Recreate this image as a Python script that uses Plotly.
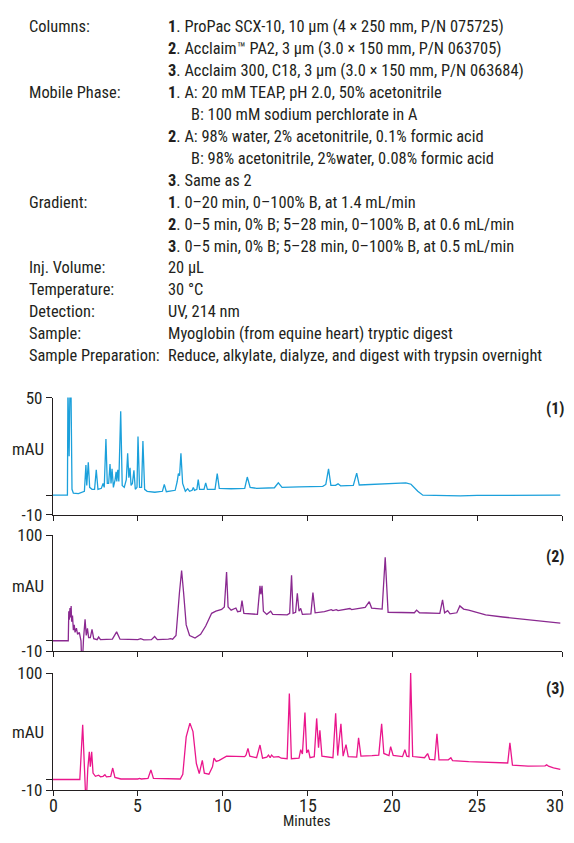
import plotly.graph_objects as go

PAD = 8  # default body margin of the html page
W, H = 574 - 2 * PAD, 843 - 2 * PAD
FONT = "Liberation Sans Narrow, Roboto Condensed, Arial Narrow, Liberation Sans, sans-serif"

# ---------------- text block ----------------
row_labels = ["Columns:", "", "", "Mobile Phase:", "", "", "", "", "Gradient:", "", "",
              "Inj. Volume:", "Temperature:", "Detection:", "Sample:", "Sample Preparation:"]
row_values = [
    "<b>1</b>. ProPac SCX-10, 10 µm (4 × 250 mm, P/N 075725)",
    "<b>2</b>. Acclaim™ PA2, 3 µm (3.0 × 150 mm, P/N 063705)",
    "<b>3</b>. Acclaim 300, C18, 3 µm (3.0 × 150 mm, P/N 063684)",
    "<b>1</b>. A: 20 mM TEAP, pH 2.0, 50% acetonitrile",
    "    B: 100 mM sodium perchlorate in A",
    "<b>2</b>. A: 98% water, 2% acetonitrile, 0.1% formic acid",
    "    B: 98% acetonitrile, 2%water, 0.08% formic acid",
    "<b>3</b>. Same as 2",
    "<b>1</b>. 0–20 min, 0–100% B, at 1.4 mL/min",
    "<b>2</b>. 0–5 min, 0% B; 5–28 min, 0–100% B, at 0.6 mL/min",
    "<b>3</b>. 0–5 min, 0% B; 5–28 min, 0–100% B, at 0.5 mL/min",
    "20 µL",
    "30 °C",
    "UV, 214 nm",
    "Myoglobin (from equine heart) tryptic digest",
    "Reduce, alkylate, dialyze, and digest with trypsin overnight",
]

# ---------------- chromatogram data (minutes, mAU) ----------------
t1 = [0, 0.85, 0.88, 0.95, 1.0, 1.06, 1.12, 1.2, 1.5, 1.85, 1.94, 1.99, 2.08, 2.16, 2.3, 2.45, 2.55, 2.65,
      2.85, 2.95, 3.02, 3.12, 3.2, 3.28, 3.36, 3.42, 3.48, 3.56, 3.66, 3.72, 3.76, 3.82, 3.88, 3.99, 4.08,
      4.2, 4.32, 4.4, 4.47, 4.54, 4.6, 4.68, 4.77, 4.85, 4.95, 5.01, 5.1, 5.22, 5.3, 5.4, 5.55, 6.0, 6.45,
      6.56, 6.68, 7.2, 7.32, 7.39, 7.46, 7.54, 7.64, 7.8, 7.94, 8.05, 8.2, 8.27, 8.34, 8.48, 8.56, 8.64,
      8.9, 9.0, 9.1, 9.55, 9.68, 9.8, 10.5, 11.3, 11.45, 11.62, 12.0, 13.05, 13.28, 13.5, 14.5, 15.9, 16.08,
      16.24, 16.38, 16.65, 16.8, 16.95, 17.7, 17.9, 18.05, 19.0, 20.8, 21.1, 21.5, 21.8, 23.0, 24.0, 25.0,
      27.0, 29.9]
v1 = [0, 0, 55, 20, 55, 55, 3, 1, 0.8, 2, 15.5, 5, 16.8, 4, 3, 3, 13, 3,
      3.5, 6, 4, 28.8, 6, 6, 16, 6, 13.5, 4, 8, 12, 7, 13, 7, 43, 5,
      4, 8, 21.5, 9, 14, 5, 6, 12.7, 3, 4, 30, 4, 4, 27.7, 3, 2, 1.5, 2,
      5.5, 1.8, 2.5, 7, 11, 10, 21.5, 6, 2, 3.3, 2, 2.5, 4, 2.5, 3, 8, 3,
      3, 6.3, 3, 3, 11, 3.5, 3.3, 3.5, 9.3, 4, 3.5, 3.8, 6.3, 4, 4.2, 4.5, 5.5,
      13.5, 5, 5, 5.8, 4.8, 5, 11.3, 5.2, 5.6, 6.3, 5.6, 2, 0, -0.2, -0.4, -0.1,
      0, 0]

t2 = [0, 0.9, 0.93, 0.96, 1.0, 1.03, 1.07, 1.1, 1.15, 1.2, 1.25, 1.3, 1.38, 1.45, 1.55, 1.65, 1.68, 1.75,
      1.8, 1.89, 1.96, 2.03, 2.1, 2.2, 2.3, 2.4, 2.6, 2.69, 2.8, 3.5, 3.75, 3.95, 5.0, 5.17, 5.35, 5.8,
      5.99, 6.15, 6.8, 6.93, 7.05, 7.25, 7.45, 7.58, 7.7, 7.85, 8.05, 8.37, 8.7, 9.0, 9.35, 9.6, 9.94,
      10.1, 10.23, 10.32, 10.5, 10.7, 10.78, 10.88, 11.05, 11.14, 11.25, 12.05, 12.15, 12.2, 12.25, 12.32,
      12.4, 12.6, 12.83, 12.95, 13.8, 13.95, 14.06, 14.15, 14.3, 14.4, 14.5, 14.6, 14.7, 15.2, 15.32,
      15.45, 16.0, 16.3, 16.4, 16.5, 16.7, 16.8, 17.4, 17.5, 17.6, 18.4, 18.64, 18.78, 19.4, 19.58, 19.75,
      20.5, 21.3, 21.43, 21.6, 22.8, 22.96, 23.08, 23.26, 23.4, 23.8, 23.98, 24.2, 24.5, 25.5, 26.5, 27.5,
      28.5, 29.9]
v2 = [0, 0, 28, 20, 31, 22, 33, 18, 24, 10, 15, 8, 12, 6, 8, 0, -15, -15,
      2, 20.4, 5, 11.8, 3, 3, 10.8, 2, 1, 3.5, 1, 1.5, 8.4, 1.5, 1, 2, 0.8, 1,
      4, 1, 1.5, 2, 1.5, 5, 45, 66.5, 45, 15, 5, 2.5, 6, 14, 26, 28, 29.7,
      32, 65, 32, 29, 30, 31, 27.5, 28, 38, 26, 25, 45, 52, 44, 52,
      28, 25, 28, 25, 24.5, 26, 62, 26, 27, 45, 28, 30.6, 25, 25.5, 45.6,
      26.5, 27.5, 28.5, 29.5, 28.5, 29.5, 28.5, 30, 30.5, 29.5, 31.5, 37, 31, 30, 79, 27,
      26.5, 26.5, 29, 26.5, 26, 38.7, 26.5, 28.5, 25.5, 26.5, 33, 30, 29, 24.5, 22.5, 21,
      18.8, 16.7]

t3 = [0, 1.58, 1.75, 1.85, 1.92, 1.98, 2.05, 2.14, 2.2, 2.28, 2.36, 2.5, 2.69, 2.8, 2.95, 3.06, 3.15,
      3.4, 3.52, 3.65, 4.0, 5.0, 5.1, 5.2, 5.6, 5.77, 5.92, 7.5, 7.65, 7.85, 8.07, 8.25, 8.45, 8.62, 8.8,
      8.92, 9.19, 9.4, 9.49, 9.62, 9.8, 10.23, 11.0, 11.3, 11.38, 11.49, 11.6, 12.0, 12.2, 12.35, 12.6,
      12.7, 12.8, 12.88, 13.0, 13.3, 13.45, 13.8, 13.93, 14.05, 14.5, 14.6, 14.7, 14.85, 14.95, 15.05,
      15.15, 15.4, 15.54, 15.65, 15.73, 15.85, 16.5, 16.66, 16.78, 16.97, 17.1, 17.27, 17.4, 17.9, 18.01,
      18.15, 18.8, 19.2, 19.37, 19.5, 19.8, 19.9, 20.05, 20.6, 20.74, 20.85, 20.98, 21.08, 21.2, 21.9,
      22.08, 22.2, 22.5, 22.63, 22.75, 23.3, 23.45, 23.55, 24.5, 26.5, 26.8, 26.93, 27.08, 28.0, 29.0,
      29.1, 29.2, 29.5, 29.9]
v3 = [0, 0, 51.5, 20, -15, -15, 10, 26, 12, 26, 6, 3, 4, 2.5, 3, 4.5, 2.5,
      3, 10.8, 2, 0.5, 0.5, 1, 0.5, 1, 9, 1, 0.5, 5, 40, 53, 45, 15, 5.5, 18,
      6, 5, 12, 20, 17, 18, 22, 21.5, 21.5, 23, 29.3, 22, 20.5, 32.4, 20, 21,
      23, 20.5, 23, 21, 21.5, 20, 19.5, 80.8, 19.5, 20, 28, 24, 63, 25, 28,
      20.5, 21.5, 57.4, 30, 46.3, 22, 20.5, 62.3, 22.5, 52.4, 22, 32.7, 21.6, 21, 39.2,
      22, 22.5, 23, 52.4, 24.5, 22.5, 30.8, 22.6, 21.5, 28, 22, 21.5, 100, 21.6, 20.5,
      24.4, 19, 18.5, 42.9, 18.5, 18.5, 20.4, 17.8, 16.8, 15.5, 15.5, 34.5, 13.4, 12.5, 12.8,
      13.8, 12.5, 11, 9.5]

panel_labels = ["(1)", "(2)", "(3)"]
colors = ["#1ba0db", "#8a2990", "#ea168c"]
y_ranges = [[-10, 50], [-10, 100], [-10, 100]]
y_ticks = [[-10, 0, 50], [-10, 0, 100], [-10, 0, 100]]
x_ticks = [0, 5, 10, 15, 20, 25, 30]

# page-pixel -> paper helpers (figure sits inside the page's 8px body margin)
def px(x):
    return (x - PAD) / W

def py(y):
    return 1 - (y - PAD) / H

x_dom = [px(53), px(562)]
y_doms = [[py(517), py(397)], [py(657), py(538)], [py(799.3), py(679.3)]]
label_y = [408, 560, 695]
mau_y = [450, 590, 740]

fig = go.Figure()
series = [(t1, v1), (t2, v2), (t3, v3)]
for i, (t, v) in enumerate(series):
    sfx = "" if i == 0 else str(i + 1)
    fig.add_trace(go.Scatter(x=t, y=v, mode="lines", line=dict(color=colors[i], width=1.3),
                             xaxis="x" + sfx, yaxis="y" + sfx, showlegend=False, hoverinfo="skip"))

layout = dict(width=W, height=H, margin=dict(l=0, r=0, t=0, b=0),
              paper_bgcolor="white", plot_bgcolor="white", showlegend=False,
              font=dict(family=FONT, color="#231f20"))
for i in range(3):
    sfx = "" if i == 0 else str(i + 1)
    layout["xaxis" + sfx] = dict(domain=x_dom, range=[0, 30], anchor="y" + sfx,
                                 tickvals=x_ticks, showticklabels=False,
                                 ticks="outside", ticklen=5, tickwidth=1.3,
                                 tickcolor="#231f20", showline=True, linecolor="#231f20", linewidth=1.3,
                                 showgrid=False, zeroline=False)
    layout["yaxis" + sfx] = dict(domain=y_doms[i], range=y_ranges[i], anchor="x" + sfx,
                                 tickvals=y_ticks[i],
                                 ticktext=[str(y_ticks[i][0]), "", str(y_ticks[i][2])],
                                 ticks="outside", ticklen=6, tickwidth=1.3, tickcolor="#231f20",
                                 showline=True, linecolor="#231f20", linewidth=1.3,
                                 showgrid=False, zeroline=False, tickfont=dict(size=17, family=FONT))
fig.update_layout(**layout)

anns = []
for k, (lab, val) in enumerate(zip(row_labels, row_values)):
    yy = py(17 + 22.47 * k)
    if lab:
        anns.append(dict(text=lab, x=px(27), y=yy, xref="paper", yref="paper", xanchor="left",
                         yanchor="middle", showarrow=False, font=dict(size=16.4, family=FONT, color="#231f20")))
    val_x = 166
    if val.startswith("    "):
        val = val.strip()
        val_x = 189
    anns.append(dict(text=val, x=px(val_x), y=yy, xref="paper", yref="paper", xanchor="left",
                     yanchor="middle", showarrow=False, font=dict(size=16.4, family=FONT, color="#231f20")))

for i in range(3):
    anns.append(dict(text="<b>" + panel_labels[i] + "</b>", x=px(566), y=py(label_y[i]), xref="paper",
                     yref="paper", xanchor="right", yanchor="middle", showarrow=False,
                     font=dict(size=16, family=FONT, color="#231f20")))
    anns.append(dict(text="mAU", x=px(28), y=py(mau_y[i]), xref="paper", yref="paper", xanchor="center",
                     yanchor="middle", showarrow=False, font=dict(size=17, family=FONT, color="#231f20")))

# x tick labels of the bottom panel (placed at the x3 tick values)
for k, tv in enumerate(x_ticks):
    last = (k == len(x_ticks) - 1)
    anns.append(dict(text=str(tv), x=tv, xref="x3", y=py(815), yref="paper",
                     xanchor="right" if last else "center", xshift=4 if last else 0,
                     yanchor="middle", showarrow=False, font=dict(size=18, family=FONT, color="#231f20")))

anns.append(dict(text="Minutes", x=px(307), y=py(820), xref="paper", yref="paper", xanchor="center",
                 yanchor="top", showarrow=False, font=dict(size=15, family=FONT, color="#231f20")))
fig.update_layout(annotations=anns)

fig.write_html("out.html", config={"displayModeBar": False})
